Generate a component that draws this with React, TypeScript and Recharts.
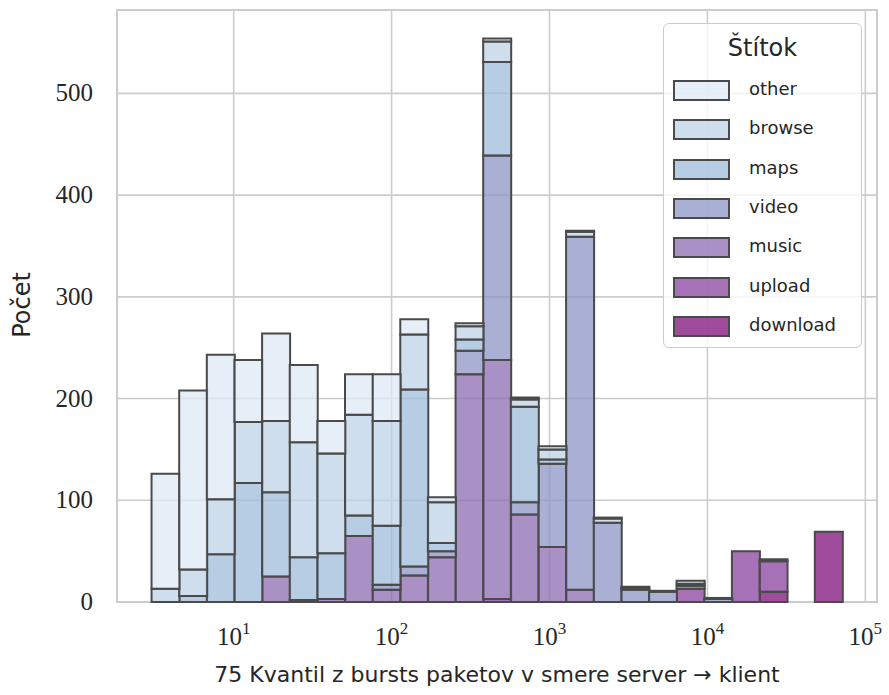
import React from 'react';
import {
  BarChart,
  Bar,
  XAxis,
  YAxis,
  CartesianGrid,
  Legend,
  ReferenceArea,
} from 'recharts';

// bins are equal-width in log10 space, from ~3 to ~7.2e4
const LOG_LO = 0.48;
const LOG_HI = 4.855;
const BIN_LABELS = [
  '3', '4.5', '6.7', '10', '15', '22', '33', '49', '74', '110', '164', '245', '366',
  '547', '816', '1.2k', '1.8k', '2.7k', '4.1k', '6.1k', '9.1k', '13.6k', '20k', '30k', '45k',
];

const other =    [113, 176, 142, 61, 86, 76, 32, 40, 46, 15, 5, 3, 3, 2, 3, 1, 1, 1, 1, 3, 1, 0, 0, 0, 0];
const browse =   [13, 26, 54, 60, 70, 113, 98, 99, 103, 54, 40, 13, 20, 7, 10, 5, 4, 2, 0, 2, 0, 0, 0, 0, 0];
const maps =     [0, 6, 47, 117, 83, 42, 45, 20, 58, 174, 8, 11, 92, 94, 4, 0, 0, 0, 0, 0, 0, 0, 0, 0, 0];
const video =    [0, 0, 0, 0, 0, 0, 0, 0, 5, 9, 6, 23, 201, 12, 82, 347, 78, 12, 10, 3, 3, 0, 0, 0, 0];
const music =    [0, 0, 0, 0, 25, 2, 3, 65, 12, 26, 44, 224, 235, 86, 54, 12, 0, 0, 0, 0, 0, 0, 2, 0, 0];
const upload =   [0, 0, 0, 0, 0, 0, 0, 0, 0, 0, 0, 0, 3, 0, 0, 0, 0, 0, 0, 13, 0, 50, 30, 0, 0];
const download = [0, 0, 0, 0, 0, 0, 0, 0, 0, 0, 0, 0, 0, 0, 0, 0, 0, 0, 0, 0, 0, 0, 10, 0, 69];

const X_TICKS = [1, 2, 3, 4, 5];
const Y_TICKS = [0, 100, 200, 300, 400, 500];

// legend order (top to bottom of legend); stack goes the other way
const SERIES = [
  { key: 'other', color: '#dde9f4' },
  { key: 'browse', color: '#bfd3e6' },
  { key: 'maps', color: '#9ebcda' },
  { key: 'video', color: '#8c96c6' },
  { key: 'music', color: '#8c6bb1' },
  { key: 'upload', color: '#88419d' },
  { key: 'download', color: '#810f7c' },
];

const values: Record<string, number[]> = { other, browse, maps, video, music, upload, download };

const data = BIN_LABELS.map((bin, i) => {
  const row: Record<string, string | number> = { bin };
  SERIES.forEach((s) => {
    row[s.key] = values[s.key][i];
  });
  return row;
});

const W = 889;
const H = 695;
const PLOT_W = 760;
const span = LOG_HI - LOG_LO;
const LOG_DOMAIN: [number, number] = [LOG_LO - 0.05 * span, LOG_HI + 0.05 * span];
const PAD = PLOT_W / 22; // matplotlib 5% margins on each side

const EDGE = '#4a4a4a';
const GRID = '#cccccc';
const TEXT = '#262626';
const SERIF = '"Liberation Serif", "DejaVu Serif", serif';
const SANS = '"DejaVu Sans", "Open Sans", sans-serif';

function LogTick({ x, y, payload }: any) {
  return (
    <text x={x} y={y + 11} textAnchor="middle" fill={TEXT} fontFamily={SERIF} fontSize={25}>
      <tspan>10</tspan>
      <tspan fontSize={17} dy={-11}>
        {payload.value}
      </tspan>
    </text>
  );
}

function CountTick({ y, payload }: any) {
  return (
    <text x={93} y={y + 8} textAnchor="end" fill={TEXT} fontFamily={SERIF} fontSize={25}>
      {payload.value}
    </text>
  );
}

function XTitle() {
  return (
    <text x={497} y={682} textAnchor="middle" fill={TEXT} fontFamily={SANS} fontSize={22}>
      75 Kvantil z bursts paketov v smere server → klient
    </text>
  );
}

function YTitle() {
  return (
    <text
      x={30}
      y={305}
      transform="rotate(-90 30 305)"
      textAnchor="middle"
      fill={TEXT}
      fontFamily={SANS}
      fontSize={24}
    >
      Počet
    </text>
  );
}

function LegendBox() {
  return (
    <div
      style={{
        width: 199,
        height: 325,
        boxSizing: 'border-box',
        border: `1.5px solid ${GRID}`,
        borderRadius: 6,
        background: 'rgba(255,255,255,0.8)',
        fontFamily: SANS,
        color: TEXT,
        position: 'relative',
      }}
    >
      <div
        style={{
          position: 'absolute',
          left: 0,
          right: 0,
          top: 10,
          textAlign: 'center',
          fontSize: 24,
        }}
      >
        Štítok
      </div>
      {SERIES.map((s, i) => (
        <div key={s.key} style={{ position: 'absolute', left: 9, top: 56 + i * 39.3, height: 20 }}>
          <svg width={57} height={21} style={{ position: 'absolute', left: 0, top: 0 }}>
            <rect x={1} y={1} width={55} height={19} fill={s.color} fillOpacity={0.75} stroke={EDGE} strokeWidth={2} />
          </svg>
          <span style={{ position: 'absolute', left: 76, top: -2, fontSize: 18, whiteSpace: 'nowrap' }}>{s.key}</span>
        </div>
      ))}
    </div>
  );
}

export default function App() {
  const stackOrder = [...SERIES].reverse();
  return (
    <div style={{ position: 'absolute', left: 0, top: 0, width: W, height: H, background: '#fff' }}>
      <BarChart
        width={W}
        height={H}
        data={data}
        margin={{ top: 10, right: 12, bottom: 0, left: 0 }}
        barCategoryGap={0}
        barGap={0}
      >
        <CartesianGrid
          xAxisId="log"
          stroke={GRID}
          strokeWidth={1.6}
          verticalValues={X_TICKS}
          horizontalValues={Y_TICKS}
        />
        <XAxis xAxisId="bins" dataKey="bin" type="category" hide padding={{ left: PAD, right: PAD }} />
        <XAxis
          xAxisId="log"
          type="number"
          dataKey={() => 1}
          domain={LOG_DOMAIN}
          allowDataOverflow
          ticks={X_TICKS}
          tick={<LogTick />}
          tickLine={false}
          axisLine={false}
          tickSize={0}
          height={93}
          label={{ content: () => <XTitle /> }}
        />
        <YAxis
          type="number"
          domain={[0, 582]}
          ticks={Y_TICKS}
          tick={<CountTick />}
          tickLine={false}
          axisLine={false}
          width={117}
          label={{ content: () => <YTitle /> }}
        />
        {stackOrder.map((s) => (
          <Bar
            key={s.key}
            xAxisId="bins"
            dataKey={s.key}
            stackId="h"
            fill={s.color}
            fillOpacity={0.75}
            stroke={EDGE}
            strokeWidth={2}
            isAnimationActive={false}
          />
        ))}
        <ReferenceArea
          xAxisId="log"
          x1={LOG_DOMAIN[0]}
          x2={LOG_DOMAIN[1]}
          y1={0}
          y2={582}
          fill="none"
          stroke={GRID}
          strokeWidth={2}
          ifOverflow="visible"
        />
        <Legend
          layout="horizontal"
          align="center"
          verticalAlign="middle"
          content={() => <LegendBox />}
          wrapperStyle={{ left: 663, top: 23, width: 199, height: 325 }}
        />
      </BarChart>
    </div>
  );
}
